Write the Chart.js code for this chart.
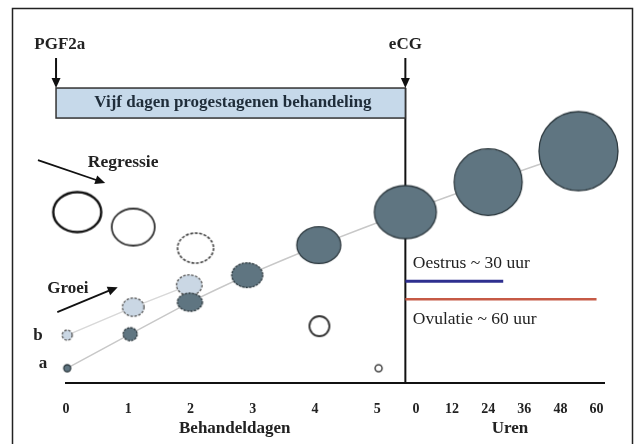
<!DOCTYPE html>
<html>
<head>
<meta charset="utf-8">
<script src="https://cdn.jsdelivr.net/npm/chart.js@4/dist/chart.umd.min.js"></script>
<style>
  html, body { margin: 0; padding: 0; background: #fff; }
</style>
</head>
<body>
<canvas id="chart" width="634" height="444"></canvas>
<script>
// axis tick labels
const dayLabels = ['0', '1', '2', '3', '4', '5'];
const hourLabels = ['0', '12', '24', '36', '48', '60'];
const dayTicks = [0, 1, 2, 3, 4, 5];
const hourTicks = [0, 12, 24, 36, 48, 60];

// treatment events (axis position in days)
const pgfDay = -0.16;
const ecgDay = 5.45;

// hours after eCG sit on the same axis, to the right of day 5
const HOUR0 = 5.62, PER_HOUR = 0.58 / 12;
function hourPos(h) { return HOUR0 + h * PER_HOUR; }

// a: growing (dominant) follicle
const growDays = [0.02, 1.03, 1.99, 2.91, 4.06, ecgDay];
const growHours = [24, 54];
const growY = [15, 49, 81, 108, 138, 171, 201, 232];
const growRx = [3.5, 7, 12.5, 15.5, 22, 31, 34, 39.5];
const growRy = [3.5, 6.5, 9, 12.3, 18.3, 26.5, 33.3, 39.5];

// b: second growing follicle
const secDays = [0.02, 1.08, 1.98];
const secY = [48, 76, 98];
const secRx = [5, 10.8, 12.8];
const secRy = [5, 9.2, 10.3];

// regressing follicles
const regDays = [0.18, 1.08, 2.08, 4.07, 5.02];
const regY = [171, 156, 135, 57, 15];
const regRx = [24, 21.5, 18, 10, 3.5];
const regRy = [20, 18.5, 15, 10, 3.5];

// oestrus / ovulation (hours after eCG)
const oestrusHours = 29, oestrusY = 102;
const ovulationHours = 60, ovulationY = 84;

const growX = growDays.concat(growHours.map(hourPos));
const growPts = growX.map((x, i) => ({ x: x, y: growY[i], r: growRx[i] }));
const secPts = secDays.map((x, i) => ({ x: x, y: secY[i], r: secRx[i] }));
const regPts = regDays.map((x, i) => ({ x: x, y: regY[i], r: regRx[i] }));

const tickPos = dayTicks.concat(hourTicks.map(hourPos));
const tickLabels = dayLabels.concat(hourLabels);

function ellipse(rx, ry, fill, stroke, lw, dash) {
  const c = document.createElement('canvas');
  c.width = Math.ceil(2 * rx + lw + 2);
  c.height = Math.ceil(2 * ry + lw + 2);
  const g = c.getContext('2d');
  g.beginPath();
  g.ellipse(c.width / 2, c.height / 2, rx, ry, 0, 0, Math.PI * 2);
  g.fillStyle = fill;
  g.fill();
  g.setLineDash(dash || []);
  g.lineWidth = lw;
  g.strokeStyle = stroke;
  g.stroke();
  return c;
}

const growImgs = growRx.map((rx, i) =>
  ellipse(rx, growRy[i], '#5f7581', '#2c383e', 1.3, (i >= 1 && i <= 3) ? [2.5, 1] : []));
const secImgs = secRx.map((rx, i) => ellipse(rx, secRy[i], '#cad7e4', '#555', 1.3, [2.5, 1.5]));
const regStroke = ['#111', '#333', '#444', '#333', '#444'];
const regWidth = [2.4, 1.8, 1.6, 1.8, 1.5];
const regImgs = regRx.map((rx, i) =>
  ellipse(rx, regRy[i], '#fff', regStroke[i], regWidth[i], i === 2 ? [3, 1.5] : []));

const serif = '"Liberation Serif", "Times New Roman", serif';

function arrow(ctx, x1, y1, x2, y2) {
  const a = Math.atan2(y2 - y1, x2 - x1);
  ctx.beginPath();
  ctx.moveTo(x1, y1);
  ctx.lineTo(x2 - 8 * Math.cos(a), y2 - 8 * Math.sin(a));
  ctx.stroke();
  ctx.beginPath();
  ctx.moveTo(x2, y2);
  ctx.lineTo(x2 - 10 * Math.cos(a) + 4.5 * Math.sin(a), y2 - 10 * Math.sin(a) - 4.5 * Math.cos(a));
  ctx.lineTo(x2 - 10 * Math.cos(a) - 4.5 * Math.sin(a), y2 - 10 * Math.sin(a) + 4.5 * Math.cos(a));
  ctx.closePath();
  ctx.fill();
}

const notes = {
  id: 'notes',
  beforeDatasetsDraw(chart) {
    const { ctx, scales: { x, y } } = chart;
    const ex = x.getPixelForValue(ecgDay);
    ctx.save();
    ctx.strokeStyle = '#111';
    ctx.lineWidth = 2;
    ctx.beginPath();
    ctx.moveTo(ex, y.getPixelForValue(295));
    ctx.lineTo(ex, chart.chartArea.bottom);
    ctx.stroke();
    ctx.restore();
  },
  afterDraw(chart) {
    const { ctx, scales: { x, y } } = chart;
    const X = v => x.getPixelForValue(v), Y = v => y.getPixelForValue(v);
    ctx.save();

    // outer frame
    ctx.strokeStyle = '#222';
    ctx.lineWidth = 1.5;
    ctx.strokeRect(12.5, 8.5, 620, 440);

    // treatment box
    const bx1 = X(pgfDay), bx2 = X(ecgDay);
    ctx.fillStyle = '#c6d9ea';
    ctx.fillRect(bx1, Y(295), bx2 - bx1, Y(265) - Y(295));
    ctx.strokeStyle = '#333';
    ctx.lineWidth = 1.5;
    ctx.strokeRect(bx1, Y(295), bx2 - bx1, Y(265) - Y(295));

    // event arrows
    ctx.strokeStyle = '#111';
    ctx.fillStyle = '#111';
    ctx.lineWidth = 2;
    arrow(ctx, bx1, Y(325), bx1, Y(295));
    arrow(ctx, bx2, Y(325), bx2, Y(295));
    ctx.lineWidth = 1.8;
    arrow(ctx, X(-0.45), Y(223), X(0.63), Y(200));
    arrow(ctx, X(-0.14), Y(71), X(0.83), Y(96));

    function text(s, xv, yv, align, font, color) {
      ctx.font = font;
      ctx.fillStyle = color || '#222';
      ctx.textAlign = align;
      ctx.textBaseline = 'middle';
      ctx.fillText(s, X(xv), Y(yv));
    }
    const bold = 'bold 17px ' + serif, plain = '17.5px ' + serif;
    text('PGF2a', -0.1, 338, 'center', bold);
    text('eCG', ecgDay, 338, 'center', bold);
    text('Vijf dagen progestagenen behandeling', 2.68, 280, 'center', bold, '#1f2d3a');
    text('Regressie', 0.35, 221, 'left', 'bold 17.5px ' + serif);
    text('Groei', -0.3, 95, 'left', bold);
    text('b', -0.45, 48, 'center', bold);
    text('a', -0.37, 20, 'center', bold);
    text('Oestrus ~ 30 uur', 5.57, 120, 'left', plain);
    text('Ovulatie ~ 60 uur', 5.57, 64, 'left', plain);

    // axis titles
    ctx.font = bold;
    ctx.fillStyle = '#222';
    ctx.textAlign = 'center';
    ctx.textBaseline = 'middle';
    const ty = chart.chartArea.bottom + 45;
    ctx.fillText('Behandeldagen', X(2.71), ty);
    ctx.fillText('Uren', X(7.13), ty);
    ctx.restore();
  }
};

new Chart(document.getElementById('chart'), {
  type: 'bubble',
  data: {
    datasets: [
      { type: 'bubble', label: 'a', data: growPts, pointStyle: growImgs, order: 1, clip: false },
      { type: 'bubble', label: 'b', data: secPts, pointStyle: secImgs, order: 1, clip: false },
      { type: 'bubble', label: 'Regressie', data: regPts, pointStyle: regImgs, order: 1, clip: false },
      { type: 'line', label: 'a line', data: growPts, borderColor: '#c8c8c8', borderWidth: 1.5,
        pointRadius: 0, tension: 0.1, order: 3 },
      { type: 'line', label: 'b line', data: secPts, borderColor: '#d8d8d8', borderWidth: 1.5,
        pointRadius: 0, order: 3 },
      { type: 'line', label: 'Oestrus',
        data: [{ x: ecgDay, y: oestrusY }, { x: hourPos(oestrusHours), y: oestrusY }],
        borderColor: '#2e2f8f', borderWidth: 3, pointRadius: 0, order: 2 },
      { type: 'line', label: 'Ovulatie',
        data: [{ x: ecgDay, y: ovulationY }, { x: hourPos(ovulationHours), y: ovulationY }],
        borderColor: '#c65a46', borderWidth: 2.5, pointRadius: 0, order: 2 }
    ]
  },
  options: {
    responsive: false,
    animation: false,
    events: [],
    layout: { padding: { left: 66, right: 30, top: 33, bottom: 8 }, autoPadding: false },
    plugins: { legend: { display: false }, tooltip: { enabled: false } },
    scales: {
      x: {
        type: 'linear', min: 0, max: 8.64,
        grid: { display: false, drawTicks: false, tickLength: 0 },
        border: { display: true, color: '#111', width: 2 },
        afterBuildTicks: s => { s.ticks = tickPos.map(v => ({ value: v })); },
        ticks: {
          autoSkip: false, maxRotation: 0, padding: 18, color: '#222',
          font: { family: serif, size: 14, weight: 'bold' },
          callback: (v, i) => tickLabels[i]
        }
      },
      y: { display: false, min: 0, max: 350 }
    }
  },
  plugins: [notes]
});
</script>
</body>
</html>
